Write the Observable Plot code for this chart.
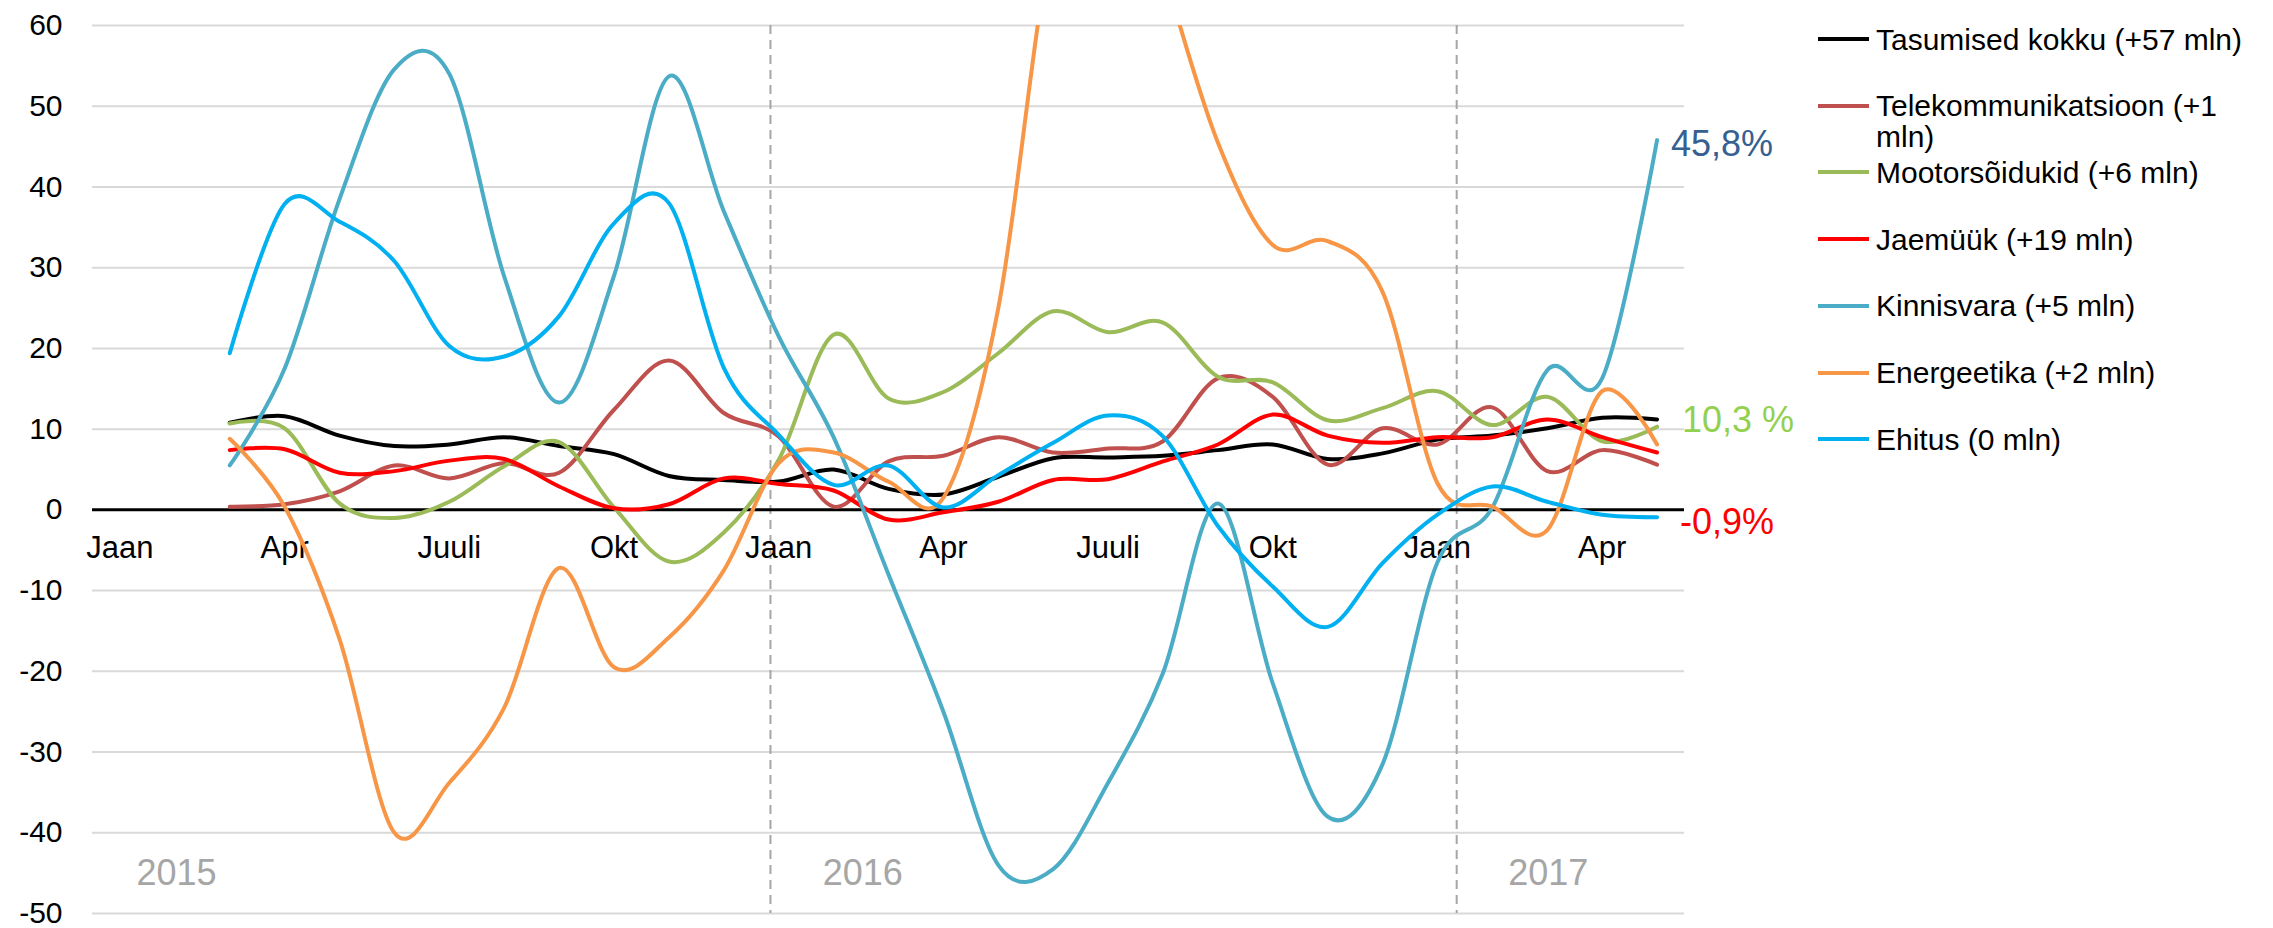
<!DOCTYPE html>
<html>
<head>
<meta charset="utf-8">
<script src="https://cdn.jsdelivr.net/npm/d3@7"></script>
<script src="https://cdn.jsdelivr.net/npm/@observablehq/plot@0.6"></script>
<style>
  html, body { margin: 0; padding: 0; background: #fff; }
  body { font-family: "Liberation Sans", Arial, sans-serif; }
  #wrap { position: relative; width: 2273px; height: 928px; overflow: hidden; }
  #legend { position: absolute; left: 1818px; top: 0; width: 455px; height: 928px; }
  .item { position: absolute; left: 0; display: flex; align-items: flex-start; }
  .swatch { width: 51px; height: 4px; margin-top: 13.5px; margin-right: 7px; flex: none; }
  .label { width: 397px; font-size: 30px; line-height: 31px; color: #000; }
</style>
</head>
<body>
<div id="wrap"><div id="chart"></div><div id="legend"></div></div>
<script>
// ---- Data ----
const months = ["2015-03","2015-04","2015-05","2015-06","2015-07","2015-08","2015-09","2015-10","2015-11","2015-12",
                "2016-01","2016-02","2016-03","2016-04","2016-05","2016-06","2016-07","2016-08","2016-09","2016-10","2016-11","2016-12",
                "2017-01","2017-02","2017-03","2017-04","2017-05"];

const tasumised   = [10.8, 11.6, 9.2, 7.9, 8.1, 9.0, 7.9, 6.9, 4.2, 3.7, 3.5, 5.0, 2.6, 1.9, 4.1, 6.4, 6.5, 6.7, 7.4, 8.1, 6.3, 7.0, 8.7, 9.2, 10.1, 11.4, 11.2];
const telekom     = [0.4, 0.7, 2.3, 5.5, 3.9, 5.8, 4.6, 12.4, 18.5, 12.0, 9.1, 0.4, 6.0, 6.7, 9.0, 7.1, 7.6, 8.5, 16.3, 14.0, 5.6, 10.1, 8.1, 12.7, 4.8, 7.4, 5.6];
const mootor      = [10.7, 10.1, 0.8, -1.0, 1.0, 5.4, 8.4, 0.3, -6.4, -2.8, 6.2, 21.7, 13.8, 14.6, 19.4, 24.6, 22.0, 23.2, 16.5, 15.8, 11.1, 12.6, 14.7, 10.5, 14.0, 8.5, 10.3];
const jaemuuk     = [7.4, 7.5, 4.6, 4.8, 6.1, 6.3, 2.9, 0.2, 0.7, 3.9, 3.2, 2.4, -1.2, -0.3, 1.0, 3.7, 3.8, 6.0, 8.1, 11.8, 9.2, 8.3, 9.0, 9.0, 11.2, 9.0, 7.1];
const kinnisvara  = [5.5, 17.5, 38.5, 54.6, 54.0, 28.9, 13.3, 29.0, 53.7, 37.0, 21.5, 9.0, -8.0, -25.0, -44.0, -44.5, -33.8, -20.2, 0.8, -21.5, -38.0, -31.5, -6.5, 0.3, 17.3, 16.3, 45.8];
const energeetika = [8.8, 0.4, -16.0, -40.0, -33.8, -24.5, -7.2, -19.5, -15.8, -7.5, 5.8, 7.1, 3.5, 1.5, 25.0, 72.0, 90.0, 67.0, 45.5, 32.8, 33.3, 27.0, 3.3, 0.4, -2.5, 14.7, 8.1];
const ehitus      = [19.4, 37.9, 35.7, 30.8, 20.3, 19.0, 24.0, 35.5, 38.0, 17.6, 9.3, 3.1, 5.5, 0.3, 4.3, 8.3, 11.7, 9.1, -2.0, -9.5, -14.5, -6.6, -0.6, 2.9, 1.0, -0.6, -0.9];

const seriesNames = ["Tasumised kokku (+57 mln)", "Telekommunikatsioon (+1 mln)", "Mootorsõidukid (+6 mln)",
                     "Jaemüük (+19 mln)", "Kinnisvara (+5 mln)", "Energeetika (+2 mln)", "Ehitus (0 mln)"];
const seriesValues = [tasumised, telekom, mootor, jaemuuk, kinnisvara, energeetika, ehitus];

const yTicks = [-50, -40, -30, -20, -10, 0, 10, 20, 30, 40, 50, 60];
const xTickMonths = ["2015-01","2015-04","2015-07","2015-10","2016-01","2016-04","2016-07","2016-10","2017-01","2017-04"];
const xTickLabels = ["Jaan","Apr","Juuli","Okt","Jaan","Apr","Juuli","Okt","Jaan","Apr"];
const yearLabels = ["2015", "2016", "2017"];
const endLabelTexts = ["45,8%", "10,3 %", "-0,9%"];
const endLabelValues = [45.8, 10.3, -0.9];

// ---- Styling / layout (not data) ----
const colors = ["#000000", "#c0504d", "#9bbb59", "#ff0000", "#4bacc6", "#f79646", "#00b0f0"];
const endLabelColors = ["#36608f", "#92d050", "#ff0000"];
const endLabelDx = [14, 25, 23];
const endLabelDy = [4, -6, 5];
const separatorPos = [11.85, 24.35];   // month-index positions of dashed year separators
const yearLabelPos = [1.03, 13.53, 26.02];
const FONT = '"Liberation Sans", Arial, sans-serif';

const monthIndex = m => { const [y, mo] = m.split("-").map(Number); return (y - 2015) * 12 + (mo - 1); };

const lineMarks = seriesValues.map((vals, s) =>
  Plot.line(vals.map((v, i) => ({x: monthIndex(months[i]), y: v})), {
    x: "x", y: "y", stroke: colors[s], strokeWidth: 4, curve: "cardinal", clip: true,
    strokeLinejoin: "round", strokeLinecap: "round"
  })
);

const lastX = monthIndex(months[months.length - 1]);

const endLabelMarks = endLabelTexts.map((t, i) =>
  Plot.text([t], {
    x: () => lastX, y: () => endLabelValues[i], text: d => d,
    fill: endLabelColors[i], fontSize: 36, textAnchor: "start",
    dx: endLabelDx[i], dy: endLabelDy[i]
  })
);

const chart = Plot.plot({
  width: 2273,
  height: 928,
  marginLeft: 92,
  marginRight: 589,
  marginTop: 25,
  marginBottom: 15,
  style: {fontFamily: FONT, background: "#fff", color: "#000"},
  x: {domain: [-0.5, 28.5], axis: null},
  y: {domain: [-50, 60], axis: null},
  marks: [
    Plot.gridY(yTicks.filter(d => d !== 0), {stroke: "#d9d9d9", strokeOpacity: 1, strokeWidth: 2}),
    Plot.ruleX(separatorPos, {stroke: "#a6a6a6", strokeWidth: 2, strokeDasharray: "9,6"}),
    Plot.ruleY([0], {stroke: "#000", strokeWidth: 3}),
    Plot.axisY(yTicks, {tickSize: 0, tickPadding: 30, fontSize: 30, tickFormat: d => String(d), label: null, fill: "#000"}),
    Plot.text(xTickMonths, {x: d => monthIndex(d), y: () => 0, text: (d, i) => xTickLabels[i], dy: 38, fontSize: 31, fill: "#000"}),
    Plot.text(yearLabels, {x: (d, i) => yearLabelPos[i], y: () => -45, text: d => d, fontSize: 36, fill: "#a6a6a6"}),
    ...lineMarks,
    ...endLabelMarks
  ]
});

document.getElementById("chart").appendChild(chart);

// ---- Legend ----
const legend = document.getElementById("legend");
seriesNames.forEach((name, i) => {
  const item = document.createElement("div");
  item.className = "item";
  item.style.top = (23.5 + i * 66.7) + "px";
  const sw = document.createElement("div");
  sw.className = "swatch";
  sw.style.background = colors[i];
  const lb = document.createElement("div");
  lb.className = "label";
  lb.textContent = name;
  item.appendChild(sw);
  item.appendChild(lb);
  legend.appendChild(item);
});
</script>
</body>
</html>
